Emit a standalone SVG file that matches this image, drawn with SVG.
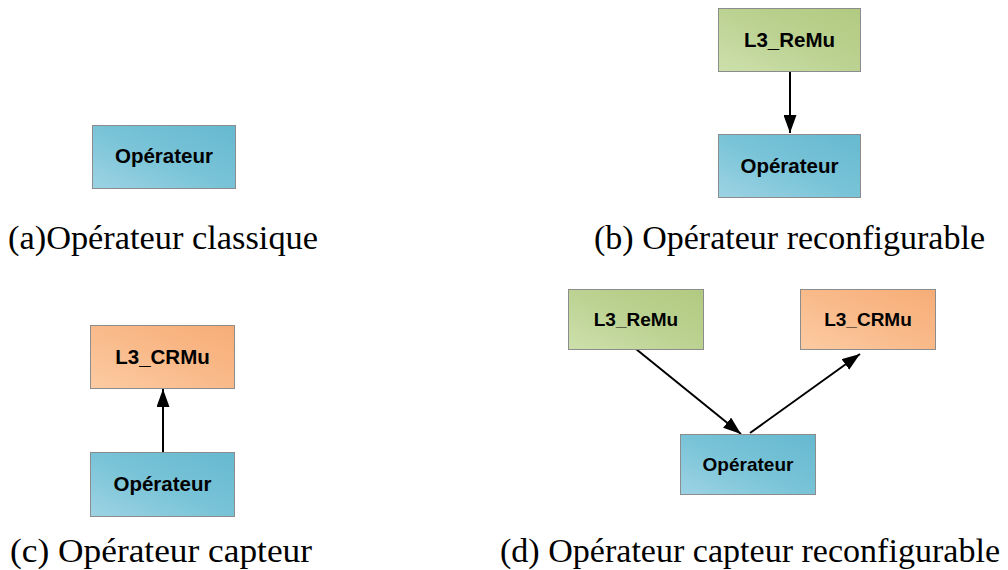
<svg xmlns="http://www.w3.org/2000/svg" width="1008" height="570" viewBox="0 0 1008 570">
<style>
.box{stroke:#8c8c8c;stroke-width:1}
.lbl{font-family:"Liberation Sans",Arial,sans-serif;font-weight:bold;fill:#000;text-anchor:middle}
.cap{font-family:"Liberation Serif","Times New Roman",serif;font-size:33px;fill:#000}
.edge{stroke:#000;stroke-width:2;fill:none;marker-end:url(#ah)}
</style>
<defs>
<linearGradient id="gb" x1="0" y1="1" x2="1" y2="0">
<stop offset="0" stop-color="#9dd3e4"/><stop offset="0.5" stop-color="#78c3d7"/><stop offset="1" stop-color="#66b9d0"/>
</linearGradient>
<linearGradient id="gg" x1="0" y1="1" x2="1" y2="0">
<stop offset="0" stop-color="#cde0ac"/><stop offset="0.5" stop-color="#bcd292"/><stop offset="1" stop-color="#b1ca80"/>
</linearGradient>
<linearGradient id="go" x1="0" y1="1" x2="1" y2="0">
<stop offset="0" stop-color="#fccba3"/><stop offset="0.5" stop-color="#f9ba8a"/><stop offset="1" stop-color="#f6ad77"/>
</linearGradient>
<marker id="ah" viewBox="0 0 18 13" refX="18" refY="6.5" markerWidth="18" markerHeight="13" markerUnits="userSpaceOnUse" orient="auto">
<path d="M0,0 L18,6.5 L0,13 Z" fill="#000"/>
</marker>
</defs>

<g id="edges">
<line class="edge" x1="790" y1="71" x2="790" y2="133"/>
<line class="edge" x1="163" y1="452" x2="163" y2="389"/>
<line class="edge" x1="636" y1="349" x2="741" y2="434"/>
<line class="edge" x1="750" y1="433" x2="860" y2="354"/>
</g>

<g id="a-operateur">
<rect class="box" x="92.5" y="125.5" width="143" height="63" fill="url(#gb)"/>
<text class="lbl" x="164" y="163" font-size="20.5">Opérateur</text>
</g>

<g id="b-remu">
<rect class="box" x="718.5" y="8.5" width="142" height="63" fill="url(#gg)"/>
<text class="lbl" x="789.5" y="47" font-size="20.5">L3_ReMu</text>
</g>
<g id="b-operateur">
<rect class="box" x="718.5" y="134.5" width="142" height="63" fill="url(#gb)"/>
<text class="lbl" x="789.5" y="173" font-size="20.5">Opérateur</text>
</g>

<g id="c-crmu">
<rect class="box" x="90.5" y="325.5" width="144" height="63" fill="url(#go)"/>
<text class="lbl" x="162.5" y="364" font-size="20.5">L3_CRMu</text>
</g>
<g id="c-operateur">
<rect class="box" x="90.5" y="452.5" width="144" height="64" fill="url(#gb)"/>
<text class="lbl" x="162.5" y="491" font-size="20.5">Opérateur</text>
</g>

<g id="d-remu">
<rect class="box" x="568.5" y="289.5" width="135" height="60" fill="url(#gg)"/>
<text class="lbl" x="636" y="326" font-size="19">L3_ReMu</text>
</g>
<g id="d-crmu">
<rect class="box" x="800.5" y="289.5" width="135" height="60" fill="url(#go)"/>
<text class="lbl" x="868" y="326" font-size="19">L3_CRMu</text>
</g>
<g id="d-operateur">
<rect class="box" x="680.5" y="434.5" width="135" height="60" fill="url(#gb)"/>
<text class="lbl" x="748" y="471" font-size="19">Opérateur</text>
</g>

<g id="captions">
<text class="cap" x="8" y="249" textLength="310" lengthAdjust="spacingAndGlyphs">(a)Opérateur classique</text>
<text class="cap" x="594" y="249" textLength="391" lengthAdjust="spacingAndGlyphs">(b) Opérateur reconfigurable</text>
<text class="cap" x="10" y="562" textLength="302" lengthAdjust="spacingAndGlyphs">(c) Opérateur capteur</text>
<text class="cap" x="500" y="562" textLength="500" lengthAdjust="spacingAndGlyphs">(d) Opérateur capteur reconfigurable</text>
</g>
</svg>
